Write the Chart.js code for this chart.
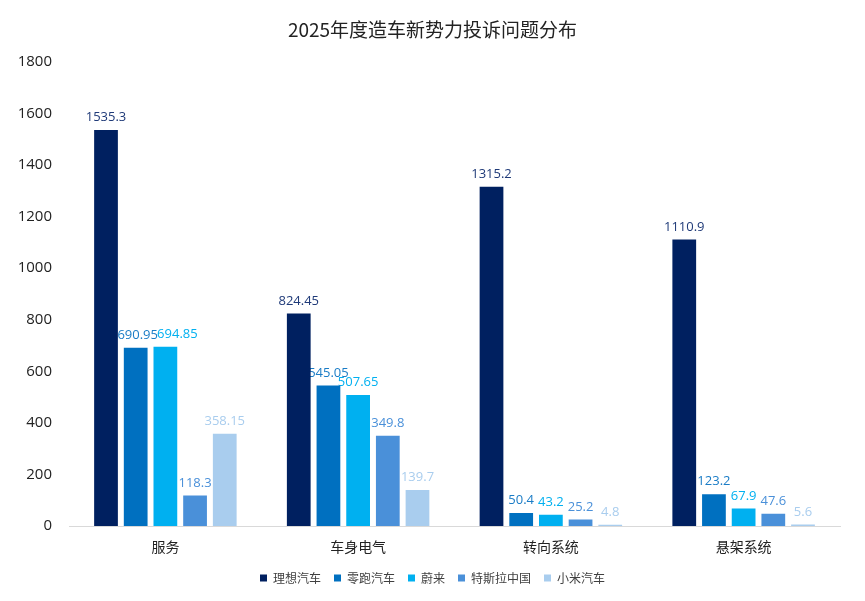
<!DOCTYPE html>
<html>
<head>
<meta charset="utf-8">
<script src="https://cdn.jsdelivr.net/npm/chart.js@4/dist/chart.umd.min.js"></script>
<style>
  html, body { margin: 0; padding: 0; background: #fff; }
  #wrap { width: 865px; height: 601px; position: relative; }
</style>
</head>
<body>
<div id="wrap"><canvas id="c"></canvas></div>
<script>
// Complaint distribution per problem type
const categories = ['服务', '车身电气', '转向系统', '悬架系统'];
const brands = ['理想汽车', '零跑汽车', '蔚来', '特斯拉中国', '小米汽车'];
const lixiang = [1535.3, 824.45, 1315.2, 1110.9];
const leapmotor = [690.95, 545.05, 50.4, 123.2];
const nio = [694.85, 507.65, 43.2, 67.9];
const tesla = [118.3, 349.8, 25.2, 47.6];
const xiaomi = [358.15, 139.7, 4.8, 5.6];
const yTicks = [0, 200, 400, 600, 800, 1000, 1200, 1400, 1600, 1800];

const colors = ['#002060', '#0070C0', '#00B0F0', '#4A90D9', '#A9CDEE'];
const labelColors = ['#1F3A78', '#1A7CC6', '#00B0F0', '#4A90D9', '#A9CDEE'];
const series = [lixiang, leapmotor, nio, tesla, xiaomi];

// a couple of value labels were nudged sideways in the original so they don't collide
const labelNudge = { '1-0': 2, '2-0': 12 };

const numFont = '"Segoe UI", "Open Sans", "Noto Sans", sans-serif';
const cjkFont = '"Noto Sans CJK SC", "Noto Sans", sans-serif';

// Draw the value above each bar (behind the bars, like the original)
const valueLabels = {
  id: 'valueLabels',
  beforeDatasetsDraw(chart) {
    const ctx = chart.ctx;
    ctx.save();
    ctx.font = '13px ' + numFont;
    ctx.textAlign = 'center';
    ctx.textBaseline = 'bottom';
    chart.data.datasets.forEach((ds, i) => {
      const meta = chart.getDatasetMeta(i);
      meta.data.forEach((bar, j) => {
        const dx = labelNudge[i + '-' + j] || 0;
        ctx.fillStyle = labelColors[i];
        ctx.fillText(String(ds.data[j]), bar.x + dx, bar.y - 6);
      });
    });
    ctx.restore();
  }
};

new Chart(document.getElementById('c'), {
  type: 'bar',
  data: {
    labels: categories,
    datasets: brands.map((name, i) => ({
      label: name,
      data: series[i],
      backgroundColor: colors[i],
      barPercentage: 0.8,
      categoryPercentage: 0.77,
    })),
  },
  options: {
    responsive: true,
    maintainAspectRatio: false,
    animation: false,
    layout: { padding: { left: 8, right: 8, top: 8, bottom: 7 } },
    plugins: {
      title: {
        display: true,
        text: '2025年度造车新势力投诉问题分布',
        color: '#222',
        font: { family: cjkFont, size: 19, weight: 'normal' },
        padding: { top: 10, bottom: 21 },
      },
      legend: {
        position: 'bottom',
        labels: {
          color: '#404040',
          font: { family: cjkFont, size: 12 },
          boxWidth: 7,
          boxHeight: 7,
          padding: 13,
        },
      },
      tooltip: { enabled: false },
    },
    scales: {
      x: {
        grid: { display: false, drawTicks: false },
        border: { color: '#d9d9d9' },
        ticks: { color: '#222', font: { family: cjkFont, size: 14 }, padding: 12 },
        afterFit(scale) { scale.height = 33; },
      },
      y: {
        min: 0,
        max: 1800,
        afterBuildTicks(axis) { axis.ticks = yTicks.map(v => ({ value: v })); },
        grid: { display: false, drawTicks: false },
        border: { display: false },
        ticks: {
          color: '#222',
          font: { family: numFont, size: 15 },
          padding: 17,
          callback: (v) => String(v),
        },
        afterFit(scale) { scale.width = 61; },
      },
      // empty right-hand gutter so the plot ends where the reference does
      yRight: {
        position: 'right',
        grid: { display: false, drawTicks: false },
        border: { display: false },
        ticks: { display: false },
        afterFit(scale) { scale.width = 17; },
      },
    },
  },
  plugins: [valueLabels],
});
</script>
</body>
</html>
